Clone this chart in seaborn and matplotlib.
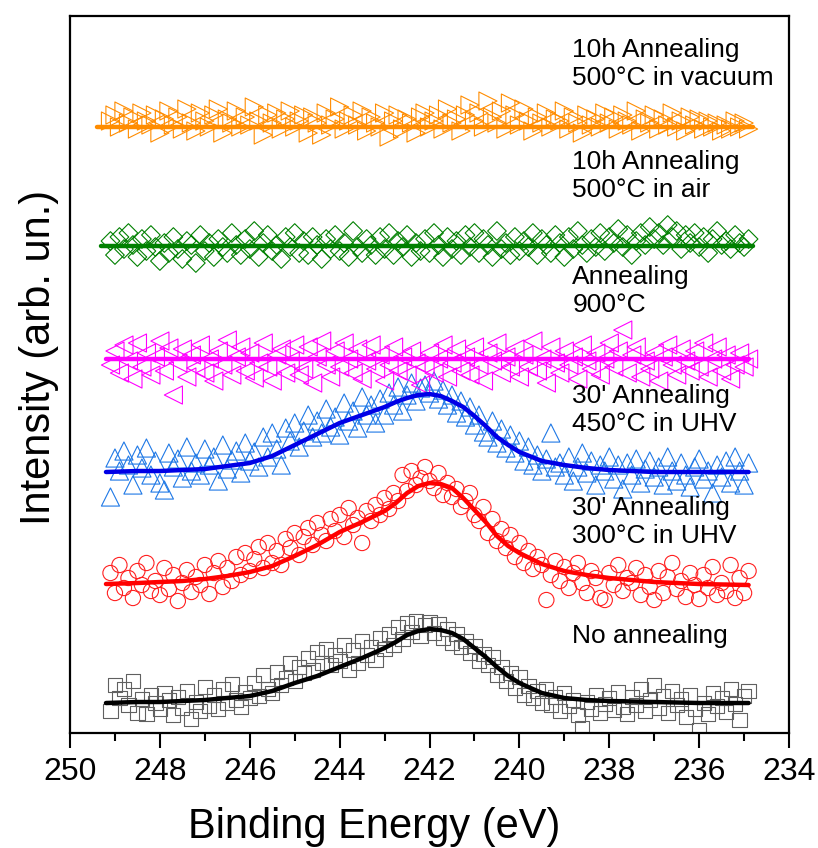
import numpy as np
import pandas as pd
import seaborn as sns
import matplotlib.pyplot as plt
from matplotlib.ticker import MultipleLocator

# measurement grid, 249.1 -> 234.9 eV in 0.1 eV steps
energy = np.round(np.arange(249.1, 234.85, -0.1), 1)

# raw points (arb. un., already stacked)
no_anneal = [
    22, 48, 35, 44, 28, 52, 20, 34, 19, 38,
    30, 24, 40, 33, 18, 36, 25, 42, 14, 31,
    22, 46, 27, 38, 24, 44, 30, 49, 33, 26,
    41, 35, 50, 37, 58, 44, 40, 61, 48, 55,
    70, 52, 66, 60, 75, 63, 81, 70, 84, 68,
    78, 72, 88, 63, 83, 70, 92, 78, 86, 73,
    95, 84, 99, 88, 106, 94, 110, 101, 112, 97,
    108, 111, 100, 109, 95, 104, 90, 99, 86, 92,
    80, 87, 72, 79, 68, 76, 58, 66, 52, 60,
    45, 56, 38, 47, 35, 42, 30, 44, 28, 36,
    22, 40, 27, 33, 18, 5, 31, 24, 38, 20,
    29, 35, 23, 41, 26, 19, 36, 28, 44, 22,
    33, 48, 25, 37, 20, 42, 28, 34, 16, 38,
    24, 3, 30, 19, 40, 27, 35, 21, 44, 29,
    13, 37, 42]
uhv_300 = [
    160, 140, 168, 145, 155, 135, 162, 148, 170, 142,
    152, 138, 165, 144, 158, 132, 150, 163, 141, 156,
    148, 168, 139, 160, 172, 146, 165, 152, 176, 158,
    180, 162, 174, 186, 165, 190, 170, 182, 168, 194,
    185, 200, 178, 196, 205, 188, 210, 198, 192, 214,
    202, 218, 196, 225, 208, 215, 190, 222, 212, 228,
    218, 235, 224, 240, 232, 258, 242, 262, 248, 255,
    266, 252, 245, 260, 238, 250, 236, 244, 226, 232,
    240, 218, 212, 226, 200, 214, 192, 204, 185, 198,
    176, 190, 170, 182, 164, 176, 168, 133, 158, 172,
    152, 166, 145, 160, 170, 150, 140, 162, 155, 135,
    133, 160, 148, 168, 142, 155, 150, 165, 138, 158,
    146, 133, 162, 140, 156, 170, 144, 152, 136, 160,
    148, 134, 158, 145, 166, 138, 150, 142, 168, 135,
    155, 140, 162]
uhv_450 = [
    236, 275, 262, 282, 268, 248, 278, 265, 285, 258,
    272, 250, 243, 280, 266, 274, 255, 286, 262, 270,
    258, 284, 268, 276, 252, 288, 264, 273, 282, 260,
    290, 272, 281, 266, 296, 276, 300, 284, 268, 305,
    292, 310, 286, 302, 318, 296, 312, 300, 324, 306,
    316, 298, 330, 312, 322, 305, 336, 318, 328, 310,
    334, 318, 340, 328, 346, 322, 338, 350, 332, 345,
    348, 340, 352, 334, 343, 328, 338, 320, 332, 316,
    326, 308, 318, 301, 296, 312, 290, 304, 285, 298,
    280, 292, 272, 286, 268, 278, 262, 274, 300, 266,
    270, 258, 276, 252, 266, 280, 260, 272, 248, 268,
    262, 276, 254, 268, 244, 270, 258, 274, 250, 264,
    272, 256, 266, 248, 276, 262, 252, 270, 258, 246,
    266, 274, 254, 262, 240, 268, 256, 272, 250, 276,
    262, 248, 270]
anneal_900 = [
    368, 382, 360, 388, 372, 354, 390, 366, 380, 358,
    376, 392, 362, 385, 338, 370, 384, 356, 378, 365,
    388, 360, 374, 352, 382, 368, 393, 358, 376, 386,
    362, 380, 355, 370, 390, 366, 352, 378, 384, 360,
    372, 388, 358, 364, 386, 350, 376, 392, 368, 356,
    382, 366, 390, 374, 360, 384, 354, 372, 388, 364,
    378, 352, 368, 386, 362, 376, 358, 382, 370, 348,
    366, 380, 360, 374, 388, 356, 370, 384, 362, 376,
    358, 386, 368, 352, 380, 372, 390, 360, 376, 366,
    384, 356, 378, 366, 392, 362, 374, 350, 386, 370,
    360, 382, 368, 376, 354, 388, 372, 364, 380, 358,
    374, 390, 366, 382, 403, 360, 378, 386, 356, 372,
    364, 380, 352, 376, 388, 368, 358, 384, 372, 362,
    382, 366, 390, 356, 374, 386, 362, 378, 354, 368,
    380, 366, 374]
air_500 = [
    492, 478, 496, 484, 500, 488, 476, 494, 482, 498,
    486, 472, 490, 480, 496, 484, 474, 492, 488, 470,
    498, 482, 490, 476, 494, 486, 480, 500, 488, 478,
    494, 484, 502, 476, 490, 498, 482, 488, 474, 496,
    486, 500, 480, 492, 478, 496, 488, 474, 494, 484,
    498, 482, 490, 476, 502, 486, 480, 494, 488, 478,
    496, 484, 500, 478, 492, 486, 498, 476, 490, 482,
    494, 480, 500, 488, 476, 496, 484, 492, 478, 498,
    486, 500, 480, 494, 488, 476, 502, 484, 490, 478,
    496, 482, 492, 486, 500, 478, 494, 488, 480, 498,
    490, 476, 496, 484, 502, 488, 480, 494, 486, 500,
    482, 496, 490, 504, 486, 498, 478, 492, 500, 488,
    506, 494, 500, 488, 508, 496, 502, 484, 498, 490,
    500, 486, 496, 480, 494, 502, 488, 492, 484, 498,
    490, 486, 494]
vac_500 = [
    612, 618, 606, 622, 610, 616, 604, 620, 612, 608,
    618, 600, 614, 622, 608, 616, 604, 624, 610, 602,
    620, 612, 606, 618, 624, 600, 614, 610, 622, 606,
    616, 608, 626, 612, 598, 618, 610, 620, 604, 614,
    622, 606, 612, 618, 600, 616, 610, 598, 620, 608,
    614, 626, 604, 612, 618, 608, 622, 602, 616, 610,
    606, 620, 596, 612, 618, 604, 614, 610, 600, 616,
    620, 606, 612, 618, 604, 624, 610, 614, 602, 618,
    628, 612, 620, 606, 632, 616, 610, 622, 604, 630,
    618, 608, 624, 612, 602, 616, 610, 620, 606, 614,
    612, 622, 604, 616, 610, 600, 618, 608, 614, 606,
    620, 610, 616, 604, 618, 612, 608, 622, 602, 614,
    610, 618, 604, 614, 608, 620, 606, 612, 602, 616,
    608, 614, 604, 612, 606, 610, 602, 608, 604, 612,
    606, 610, 604]

# fitted envelopes
fit_energy = [249.2, 248.5, 248, 247.5, 247, 246.5, 246, 245.5, 245, 244.5,
              244, 243.5, 243, 242.75, 242.5, 242.25, 242, 241.75, 241.5,
              241.25, 241, 240.75, 240.5, 240.25, 240, 239.5, 239, 238.5,
              238, 237, 236, 234.9]
fit_no_anneal = [30, 31, 31, 32, 33, 35, 37, 42, 50, 57, 66, 75, 85, 91, 98,
                 102, 104, 103, 100, 94, 85, 76, 66, 57, 50, 40, 35, 33, 32,
                 31, 30, 30]
fit_300 = [149, 150, 151, 152, 154, 157, 161, 167, 177, 188, 201, 211, 222,
           230, 240, 247, 250, 249, 245, 235, 223, 211, 197, 187, 180, 169,
           162, 158, 155, 151, 149, 148]
fit_450 = [261, 262, 262, 263, 264, 267, 270, 277, 288, 299, 310, 318, 326,
           331, 335, 338, 339, 337, 332, 326, 317, 307, 296, 288, 281, 272,
           268, 265, 263, 261, 261, 261]
fit_900_energy = [249.2, 234.9]
fit_900 = [374, 374]
fit_air_energy = [249.3, 234.8]
fit_air = [487, 487]
fit_vac_energy = [249.4, 234.8]
fit_vac = [606, 606]

labels = ["No annealing", "30' Annealing\n300°C in UHV",
          "30' Annealing\n450°C in UHV", "Annealing\n900°C",
          "10h Annealing\n500°C in air", "10h Annealing\n500°C in vacuum"]
label_y = [97, 211, 323, 442, 557, 669]

sns.set_style("ticks")
plt.rcParams['font.family'] = ['Liberation Sans', 'DejaVu Sans']
for key in ['text.color', 'axes.labelcolor', 'xtick.color', 'ytick.color',
            'axes.edgecolor']:
    plt.rcParams[key] = 'black'

fig = plt.figure(figsize=(8.18, 8.48), dpi=100)
ax = fig.add_axes([0.0856, 0.1356, 0.879, 0.8455])

series = [
    (no_anneal, fit_energy, fit_no_anneal, 's', 105, '#606060', 'black'),
    (uhv_300, fit_energy, fit_300, 'o', 120, '#ff2020', '#ff0000'),
    (uhv_450, fit_energy, fit_450, '^', 170, '#1e78e6', '#0000e6'),
    (anneal_900, fit_900_energy, fit_900, '<', 170, '#ff00ff', '#ff00ff'),
    (air_500, fit_air_energy, fit_air, 'D', 90, '#008000', '#008000'),
    (vac_500, fit_vac_energy, fit_vac, '>', 170, '#ff8c00', '#ff8c00'),
]

for pts, fx, fy, mk, sz, ec, lc in series:
    df = pd.DataFrame({'E': energy, 'I': pts})
    sns.scatterplot(data=df, x='E', y='I', marker=mk, s=sz, facecolors='none',
                    edgecolor=ec, linewidth=0.8, ax=ax, zorder=2)
    sns.lineplot(x=fx, y=fy, color=lc, linewidth=3.2, ax=ax, zorder=3)

for txt, yy in zip(labels, label_y):
    ax.text(238.82, yy, txt, fontsize=19, va='center', ha='left')

ax.set_xlim(250, 234)
ax.set_ylim(0, 717)
ax.xaxis.set_major_locator(MultipleLocator(2))
ax.xaxis.set_minor_locator(MultipleLocator(1))
ax.set_yticks([])
ax.tick_params(axis='x', which='major', length=11, width=1.5, labelsize=23,
               pad=6)
ax.tick_params(axis='x', which='minor', length=6, width=1.5)
for sp in ax.spines.values():
    sp.set_linewidth(1.6)
ax.set_xlabel("Binding Energy (eV)", fontsize=30)
ax.set_ylabel("Intensity (arb. un.)", fontsize=30)
ax.xaxis.set_label_coords(0.423, -0.103)
ax.yaxis.set_label_coords(-0.015, 0.524)

fig.savefig("out.png", dpi=100)
